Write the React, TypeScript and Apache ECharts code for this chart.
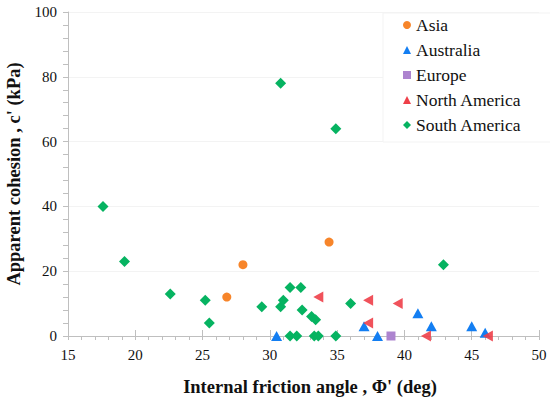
import React, { useEffect, useRef } from "react";
import * as echarts from "echarts";

const asia: number[][] = [[26.8, 12], [28, 22], [34.4, 29]];
const australia: number[][] = [[30.5, 0], [37, 3], [38, 0], [41, 7], [42, 3], [45, 3], [46, 1]];
const europe: number[][] = [[39, 0]];
const northAmerica: number[][] = [[33.6, 12], [37.3, 11], [37.3, 4], [39.5, 10], [41.6, 0], [46.2, 0]];
const southAmerica: number[][] = [
  [17.6, 40], [19.2, 23], [22.6, 13], [25.2, 11], [25.5, 4], [29.4, 9], [30.8, 9], [31, 11],
  [31.5, 15], [32.3, 15], [32.4, 8], [33.1, 6], [33.4, 5], [36, 10], [42.9, 22], [30.8, 78],
  [34.9, 64], [31.5, 0], [32, 0], [33.3, 0], [33.6, 0], [34.9, 0],
];

const xTitle = "Internal friction angle , Φ' (deg)";
const yTitle = "Apparent cohesion , c' (kPa)";

const FONT = "'Liberation Serif', 'Times New Roman', serif";

export default function App() {
  const ref = useRef<HTMLDivElement>(null);
  useEffect(() => {
    const chart = echarts.init(ref.current!, null, { renderer: "svg" });
    const axisCommon = {
      axisLine: { show: true, lineStyle: { color: "#bfbfbf", width: 1 } },
      axisLabel: { color: "#111", fontFamily: FONT, fontSize: 15 },
      splitLine: { show: true, lineStyle: { color: "#f3f3f3", width: 1 } },
      minorTick: { show: true, splitNumber: 5, length: 4, lineStyle: { color: "#bfbfbf" } },
    };
    chart.setOption({
      animation: false,
      backgroundColor: "#ffffff",
      grid: { left: 68, right: 11, top: 12, bottom: 65 },
      xAxis: [
        {
          type: "value",
          min: 15,
          max: 50,
          interval: 5,
          ...axisCommon,
          splitLine: { show: false },
          axisTick: { show: true, length: 4, lineStyle: { color: "#bfbfbf" } },
          axisLabel: { ...axisCommon.axisLabel, margin: 11 },
        },
        {
          type: "value",
          min: 15,
          max: 50,
          interval: 5,
          position: "bottom",
          axisLine: { show: false },
          axisLabel: { show: false },
          splitLine: { show: false },
          axisTick: { show: true, inside: true, length: 6, lineStyle: { color: "#bfbfbf" } },
        },
      ],
      yAxis: {
        type: "value",
        min: 0,
        max: 100,
        interval: 20,
        ...axisCommon,
        axisTick: { show: true, length: 5, lineStyle: { color: "#bfbfbf" } },
        minorTick: { show: true, splitNumber: 5, length: 5, lineStyle: { color: "#bfbfbf" } },
        axisLabel: { ...axisCommon.axisLabel, margin: 11 },
      },
      legend: {
        orient: "vertical",
        left: 383,
        top: 13,
        backgroundColor: "#ffffff",
        borderColor: "#f3f3f3",
        borderWidth: 1,
        padding: [3, 30, 8, 20],
        itemWidth: 8,
        itemHeight: 8,
        itemGap: 7,
        itemStyle: { opacity: 1 },
        textStyle: { fontFamily: FONT, fontSize: 17.5, color: "#111", lineHeight: 18 },
        data: ["Asia", "Australia", "Europe", "North America", "South America"],
      },
      series: [
        {
          name: "Asia",
          type: "scatter",
          symbol: "circle",
          symbolSize: 9,
          itemStyle: { color: "#f7852a", opacity: 1 },
          data: asia,
        },
        {
          name: "Australia",
          type: "scatter",
          symbol: "triangle",
          symbolSize: [11, 10],
          itemStyle: { color: "#137ef2", opacity: 1 },
          data: australia,
        },
        {
          name: "Europe",
          type: "scatter",
          symbol: "rect",
          symbolSize: 9,
          itemStyle: { color: "#ad84cf", opacity: 1 },
          data: europe,
        },
        {
          name: "North America",
          type: "scatter",
          symbol: "triangle",
          symbolRotate: 90,
          symbolSize: [11, 10],
          itemStyle: { color: "#ee3f49", opacity: 0.9 },
          data: northAmerica,
        },
        {
          name: "South America",
          type: "scatter",
          symbol: "diamond",
          symbolSize: 11,
          itemStyle: { color: "#06b361", opacity: 1 },
          data: southAmerica,
        },
      ],
      graphic: [
        {
          type: "text",
          x: 310,
          y: 387,
          style: {
            text: xTitle,
            fontFamily: FONT,
            fontWeight: "bold",
            fontSize: 18.5,
            fill: "#111",
            align: "center",
            verticalAlign: "middle",
          },
        },
        {
          type: "text",
          x: 14,
          y: 174,
          rotation: Math.PI / 2,
          style: {
            text: yTitle,
            fontFamily: FONT,
            fontWeight: "bold",
            fontSize: 18.5,
            fill: "#111",
            align: "center",
            verticalAlign: "middle",
          },
        },
      ],
    });
    return () => chart.dispose();
  }, []);
  return (
    <div
      ref={ref}
      style={{ position: "absolute", left: 0, top: 0, width: 550, height: 401 }}
    />
  );
}
